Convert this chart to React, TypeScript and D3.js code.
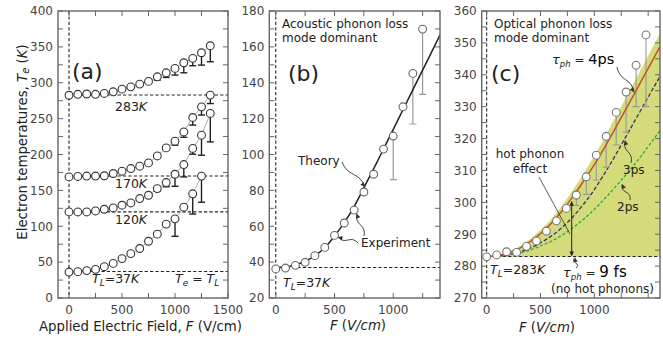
import React from 'react';
import * as d3 from 'd3';

const W = 663, H = 341;
const TOP = 11, BOTTOM = 298;
const FONT = 'DejaVu Sans, Verdana, sans-serif';

// ---------- Panel (a) ----------
const fieldA = [0, 83, 167, 250, 333, 417, 500, 583, 667, 750, 833, 917, 1000, 1083, 1167, 1250, 1333];
const te283 = [282.6, 283.9, 284.3, 283.9, 285.1, 287.4, 291.1, 294.3, 298.1, 301.9, 308.3, 313.9, 320, 327.9, 334, 341.8, 351.6];
const low283 = [null, null, null, null, null, null, null, null, null, null, 303.7, 307.4, 310.7, 313.9, 323.7, 324.6, 329.3];
const te170 = [168.8, 169.4, 170, 170, 170.4, 173.5, 176.7, 180.4, 183.7, 188.3, 198, 209.2, 218.6, 231.5, 251.6, 266.4, 282.8];
const low170 = [null, null, null, null, null, null, null, null, null, null, null, null, 213, 224, 241, 255, 271];
const te120 = [119.9, 119.9, 119.9, 121.3, 123.7, 125.5, 129.3, 132.5, 138.6, 143.2, 152.5, 160.9, 172.5, 186, 208.4, 227, 257.2];
const low120 = [null, null, null, null, null, null, null, null, null, null, 149, 155, 155.7, 168.7, 200.4, 199, 217.6];
const te37 = [36.2, 36.7, 38.2, 39.9, 43.6, 48.2, 54.9, 61.8, 69, 79.1, 89, 103, 110.3, 126.6, 145.2, 169.9];
const low37 = [null, null, null, null, null, null, null, null, null, null, null, null, 86, null, 117, 133.5];
const latticeA = [283, 170, 120, 37];

// ---------- Panel (b) ----------
const fieldTheory = [0, 83, 167, 250, 333, 417, 500, 583, 667, 750, 833, 917, 1000, 1100, 1200, 1300, 1400];
const teTheory = [37, 37.3, 38.5, 40.5, 43.5, 48, 54.5, 62, 71, 81.5, 92, 103, 114, 127.2, 140.5, 153.6, 166.8];

// ---------- Panel (c) ----------
const fieldC = [0, 93, 185, 278, 370, 463, 555, 648, 740, 833, 925, 1018, 1110, 1203, 1295, 1388, 1480];
const teC = [282.9, 283.5, 284.5, 284.3, 286.2, 287.9, 291, 294.2, 298.1, 302.3, 308, 314.8, 320.7, 328.2, 334.6, 343, 352.5];
const lowC = [null, null, null, null, null, null, null, null, null, 299, 302.5, 307, 311, 318, 322, 330, 330];
const fieldCurve = [0, 100, 200, 300, 400, 500, 600, 700, 800, 900, 1000, 1100, 1200, 1300, 1400, 1500, 1610];
const tau4ps = [283, 283.3, 284.1, 285.5, 287.6, 290.2, 293.4, 297.3, 301.8, 306.6, 311.8, 317.5, 323.5, 329.6, 335.8, 342, 348.8];
const tau3ps = [283, 283.15, 283.6, 284.4, 285.6, 287.3, 289.4, 292.1, 295.4, 299.4, 304, 309.3, 315, 321, 327, 333, 339.5];
const tau2ps = [283, 283.1, 283.4, 284.1, 285, 286.3, 287.8, 289.7, 292, 294.7, 297.8, 301.3, 305, 308.9, 313, 317.5, 322.5];
const fillTop = [283, 283.5, 284.5, 286.1, 288.4, 291.3, 294.8, 299, 303.8, 309, 314.6, 320.6, 326.9, 333.2, 339.6, 346, 353];

// ---------- scales ----------
const xA = d3.scaleLinear().domain([-104, 1500]).range([58, 228]);
const yA = d3.scaleLinear().domain([0, 400]).range([BOTTOM, TOP]);
const xB = d3.scaleLinear().domain([-55, 1398]).range([269.3, 440]);
const yB = d3.scaleLinear().domain([20, 180]).range([BOTTOM, TOP]);
const xC = d3.scaleLinear().domain([-46, 1610]).range([481.7, 660]);
const yC = d3.scaleLinear().domain([270, 360]).range([BOTTOM, TOP]);

type Sc = d3.ScaleLinear<number, number>;

function Frame({ x, y, xMajor, xMinor, yMajor, yMinor }: { x: Sc; y: Sc; xMajor: number[]; xMinor: number[]; yMajor: number[]; yMinor: number[] }) {
  const [x0, x1] = x.range();
  const [y0, y1] = y.range();
  const t = 5;
  const col = '#666';
  return (
    <g>
      {xMinor.map((v) => (
        <g key={'xm' + v}>
          <line x1={x(v)} x2={x(v)} y1={y0} y2={y0 - t} stroke={col} strokeWidth={1} />
          <line x1={x(v)} x2={x(v)} y1={y1} y2={y1 + t} stroke={col} strokeWidth={1} />
        </g>
      ))}
      {yMinor.map((v) => (
        <g key={'ym' + v}>
          <line x1={x0} x2={x0 + t} y1={y(v)} y2={y(v)} stroke={col} strokeWidth={1} />
          <line x1={x1} x2={x1 - t} y1={y(v)} y2={y(v)} stroke={col} strokeWidth={1} />
        </g>
      ))}
      <rect x={x0} y={y1} width={x1 - x0} height={y0 - y1} fill="none" stroke={col} strokeWidth={1.4} />
      {xMajor.map((v) => (
        <text key={'xl' + v} x={x(v)} y={314} textAnchor="middle" fontSize={12} fill="#444" fontFamily={FONT}>{v}</text>
      ))}
      {yMajor.map((v) => (
        <text key={'yl' + v} x={x0 - 5} y={y(v) + 4.3} textAnchor="end" fontSize={12} fill="#444" fontFamily={FONT}>{v}</text>
      ))}
    </g>
  );
}

function range(a: number, b: number, s: number) {
  return d3.range(a, b + s / 2, s);
}

function Circles({ xs, ys, x, y, stroke }: { xs: number[]; ys: number[]; x: Sc; y: Sc; stroke: string }) {
  return (
    <g>
      {ys.map((v, i) => (
        <circle key={i} cx={x(xs[i])} cy={y(v)} r={3.9} fill="white" stroke={stroke} strokeWidth={1.1} />
      ))}
    </g>
  );
}

function ErrBars({ xs, ys, lows, x, y, stroke, w }: { xs: number[]; ys: number[]; lows: (number | null)[]; x: Sc; y: Sc; stroke: string; w: number }) {
  return (
    <g>
      {lows.map((l, i) =>
        l == null ? null : (
          <g key={i}>
            <line x1={x(xs[i])} x2={x(xs[i])} y1={y(ys[i]) + 3.9} y2={y(l)} stroke={stroke} strokeWidth={w} />
            <line x1={x(xs[i]) - 3.5} x2={x(xs[i]) + 3.5} y1={y(l)} y2={y(l)} stroke={stroke} strokeWidth={w} />
          </g>
        )
      )}
    </g>
  );
}

function Squiggle({ x1, y1, x2, y2, color = '#333' }: { x1: number; y1: number; x2: number; y2: number; color?: string }) {
  const dx = x2 - x1, dy = y2 - y1;
  const len = Math.hypot(dx, dy);
  const nx = -dy / len, ny = dx / len;
  const a = 2.2;
  const p = (t: number, o: number) => [x1 + dx * t + nx * o, y1 + dy * t + ny * o];
  const c1 = p(0.25, a * 1.6), m = p(0.5, 0), c2 = p(0.75, -a * 1.6);
  const d = `M${x1},${y1} Q${c1[0]},${c1[1]} ${m[0]},${m[1]} Q${c2[0]},${c2[1]} ${x2},${y2}`;
  const ux = dx / len, uy = dy / len;
  const ah = 4.5, aw = 2.2;
  const bx = x2 - ux * ah, by = y2 - uy * ah;
  const head = `M${x2},${y2} L${bx + nx * aw},${by + ny * aw} L${bx - nx * aw},${by - ny * aw} Z`;
  return (
    <g>
      <path d={d} fill="none" stroke={color} strokeWidth={0.9} />
      <path d={head} fill={color} />
    </g>
  );
}

export default function App() {
  const lineA = (ys: number[]) =>
    d3.line<number>().x((_, i) => xA(fieldA[i])).y((v) => yA(v))(ys) as string;
  const theoryPath = d3
    .line<number>()
    .x((_, i) => xB(fieldTheory[i]))
    .y((v) => yB(v))
    .curve(d3.curveMonotoneX)(teTheory) as string;
  const curveC = (ys: number[]) =>
    d3.line<number>().x((_, i) => xC(fieldCurve[i])).y((v) => yC(v)).curve(d3.curveMonotoneX)(ys) as string;
  const areaC = d3
    .area<number>()
    .x((_, i) => xC(fieldCurve[i]))
    .y0(yC(283))
    .y1((v) => yC(v))
    .curve(d3.curveMonotoneX)(fillTop) as string;

  const dash = '3.2,2.2';
  const txt = { fontFamily: FONT, fill: '#222' } as const;

  return (
    <div style={{ position: 'absolute', left: 0, top: 0 }}>
      <svg width={W} height={H} viewBox={`0 0 ${W} ${H}`} style={{ display: 'block', background: 'white' }}>
        <defs>
          <clipPath id="clipA"><rect x={58} y={TOP} width={170} height={BOTTOM - TOP} /></clipPath>
          <clipPath id="clipB"><rect x={269.3} y={TOP} width={440 - 269.3} height={BOTTOM - TOP} /></clipPath>
          <clipPath id="clipC"><rect x={481.7} y={TOP} width={660 - 481.7} height={BOTTOM - TOP} /></clipPath>
        </defs>

        {/* ===== Panel (a) ===== */}
        <g clipPath="url(#clipA)">
          <line x1={xA(0)} x2={xA(0)} y1={TOP} y2={BOTTOM} stroke="#222" strokeDasharray={dash} strokeWidth={1.1} />
          {latticeA.map((v) => (
            <line key={v} x1={xA(0)} x2={228} y1={yA(v)} y2={yA(v)} stroke="#222" strokeDasharray={dash} strokeWidth={1.1} />
          ))}
          {[te283, te170, te120, te37].map((s, k) => (
            <path key={k} d={lineA(s)} fill="none" stroke="#999" strokeWidth={0.8} />
          ))}
          <ErrBars xs={fieldA} ys={te283} lows={low283} x={xA} y={yA} stroke="#222" w={1.4} />
          <ErrBars xs={fieldA} ys={te170} lows={low170} x={xA} y={yA} stroke="#222" w={1.4} />
          <ErrBars xs={fieldA} ys={te120} lows={low120} x={xA} y={yA} stroke="#222" w={1.4} />
          <ErrBars xs={fieldA} ys={te37} lows={low37} x={xA} y={yA} stroke="#222" w={1.4} />
          <Circles xs={fieldA} ys={te283} x={xA} y={yA} stroke="#333" />
          <Circles xs={fieldA} ys={te170} x={xA} y={yA} stroke="#333" />
          <Circles xs={fieldA} ys={te120} x={xA} y={yA} stroke="#333" />
          <Circles xs={fieldA} ys={te37} x={xA} y={yA} stroke="#333" />
        </g>
        <Frame x={xA} y={yA} xMajor={[0, 500, 1000, 1500]} xMinor={range(0, 1500, 250)} yMajor={range(0, 400, 50)} yMinor={range(0, 400, 25)} />
        <text x={72} y={79} fontSize={22} {...txt}>(a)</text>
        <text x={115} y={111} fontSize={12.5} {...txt}>283<tspan fontStyle="italic">K</tspan></text>
        <text x={115} y={188} fontSize={12.5} {...txt}>170<tspan fontStyle="italic">K</tspan></text>
        <text x={115} y={224} fontSize={12.5} {...txt}>120<tspan fontStyle="italic">K</tspan></text>
        <text x={92} y={283} fontSize={12.5} {...txt}>
          <tspan fontStyle="italic">T</tspan><tspan fontStyle="italic" fontSize={9} dy={3}>L</tspan><tspan dy={-3}>=37</tspan><tspan fontStyle="italic">K</tspan>
        </text>
        <text x={175} y={283} fontSize={12.5} {...txt}>
          <tspan fontStyle="italic">T</tspan><tspan fontStyle="italic" fontSize={9} dy={3}>e</tspan><tspan dy={-3}> = </tspan><tspan fontStyle="italic">T</tspan><tspan fontStyle="italic" fontSize={9} dy={3}>L</tspan>
        </text>
        <text x={39} y={331} fontSize={13.3} {...txt}>
          Applied Electric Field, <tspan fontStyle="italic">F</tspan> (V/cm)
        </text>
        <text transform="translate(27,142) rotate(-90)" textAnchor="middle" fontSize={13.3} {...txt}>
          Electron temperatures, <tspan fontStyle="italic">T</tspan><tspan fontStyle="italic" fontSize={10} dy={2}>e</tspan><tspan dy={-2}> (</tspan><tspan fontStyle="italic">K</tspan>)
        </text>

        {/* ===== Panel (b) ===== */}
        <g clipPath="url(#clipB)">
          <line x1={xB(0)} x2={xB(0)} y1={TOP} y2={BOTTOM} stroke="#222" strokeDasharray={dash} strokeWidth={1.1} />
          <line x1={xB(0)} x2={440} y1={yB(37)} y2={yB(37)} stroke="#222" strokeDasharray={dash} strokeWidth={1.1} />
          <ErrBars xs={fieldA} ys={te37} lows={low37} x={xB} y={yB} stroke="#999" w={1.2} />
          <path d={theoryPath} fill="none" stroke="#222" strokeWidth={1.5} />
          <Circles xs={fieldA} ys={te37} x={xB} y={yB} stroke="#666" />
        </g>
        <Frame x={xB} y={yB} xMajor={[0, 500, 1000]} xMinor={range(0, 1250, 250)} yMajor={range(20, 180, 20)} yMinor={range(20, 180, 10)} />
        <text x={282} y={28} fontSize={12} {...txt}>Acoustic phonon loss</text>
        <text x={282} y={42} fontSize={12} {...txt}>mode dominant</text>
        <text x={288} y={81} fontSize={22} {...txt}>(b)</text>
        <text x={298} y={165} fontSize={12} {...txt}>Theory</text>
        <Squiggle x1={342} y1={162} x2={xB(760)} y2={yB(82)} />
        <text x={361} y={247} fontSize={12} {...txt}>Experiment</text>
        <Squiggle x1={358} y1={243} x2={xB(530)} y2={yB(54)} />
        <Squiggle x1={364} y1={236} x2={xB(690)} y2={yB(67)} />
        <text x={283} y={287} fontSize={12.5} {...txt}>
          <tspan fontStyle="italic">T</tspan><tspan fontStyle="italic" fontSize={9} dy={3}>L</tspan><tspan dy={-3}>=37</tspan><tspan fontStyle="italic">K</tspan>
        </text>
        <text x={xB(700)} y={330} textAnchor="middle" fontSize={13.3} {...txt}>
          <tspan fontStyle="italic">F</tspan> (<tspan fontStyle="italic">V/cm</tspan>)
        </text>

        {/* ===== Panel (c) ===== */}
        <g clipPath="url(#clipC)">
          <path d={areaC} fill="#d4db7a" />
          <line x1={xC(0)} x2={xC(0)} y1={TOP} y2={BOTTOM} stroke="#222" strokeDasharray={dash} strokeWidth={1.1} />
          <line x1={xC(0)} x2={660} y1={yC(283)} y2={yC(283)} stroke="#222" strokeDasharray={dash} strokeWidth={1.1} />
          <path d={curveC(tau2ps)} fill="none" stroke="#2aa63a" strokeWidth={1.3} strokeDasharray="3,2" />
          <path d={curveC(tau3ps)} fill="none" stroke="#33336e" strokeWidth={1.3} strokeDasharray="4,2" />
          <ErrBars xs={fieldC} ys={teC} lows={lowC} x={xC} y={yC} stroke="#999" w={1.1} />
          <path d={curveC(tau4ps)} fill="none" stroke="#c8512a" strokeWidth={1.5} />
          <Circles xs={fieldC} ys={teC} x={xC} y={yC} stroke="#777" />
          <line x1={xC(790)} x2={xC(790)} y1={yC(283) - 4} y2={yC(300.5) + 4} stroke="#222" strokeWidth={1} />
          <path d={`M${xC(790)},${yC(283)} l-2.2,-5 l4.4,0 Z`} fill="#222" />
          <path d={`M${xC(790)},${yC(300.5)} l-2.2,5 l4.4,0 Z`} fill="#222" />
        </g>
        <Frame x={xC} y={yC} xMajor={[0, 500, 1000]} xMinor={range(0, 1500, 250)} yMajor={range(270, 360, 10)} yMinor={range(270, 360, 5)} />
        <text x={494} y={28} fontSize={12} {...txt}>Optical phonon loss</text>
        <text x={494} y={42} fontSize={12} {...txt}>mode dominant</text>
        <text x={491} y={81} fontSize={22} {...txt}>(c)</text>
        <text x={552} y={64} fontSize={12} {...txt}>
          <tspan fontStyle="italic" fontSize={13}>τ</tspan><tspan fontStyle="italic" fontSize={8.5} dy={3}>ph</tspan><tspan dy={-3}> = </tspan><tspan fontSize={14.5} fill="#000">4ps</tspan>
        </text>
        <Squiggle x1={617} y1={67} x2={xC(1370)} y2={yC(334.5)} />
        <text x={530} y={158} textAnchor="middle" fontSize={12} {...txt}>hot phonon</text>
        <text x={530} y={173} textAnchor="middle" fontSize={12} {...txt}>effect</text>
        <line x1={539} y1={177} x2={xC(775)} y2={yC(290)} stroke="#333" strokeWidth={0.8} />
        <text x={623} y={174} fontSize={12} {...txt}>3ps</text>
        <Squiggle x1={631} y1={163} x2={625} y2={yC(320) + 2} />
        <text x={617} y={211} fontSize={12} {...txt}>2ps</text>
        <Squiggle x1={630} y1={200} x2={622} y2={yC(306) + 1} />
        <text x={490} y={274} fontSize={12.5} {...txt}>
          <tspan fontStyle="italic">T</tspan><tspan fontStyle="italic" fontSize={9} dy={3}>L</tspan><tspan dy={-3}>=283</tspan><tspan fontStyle="italic">K</tspan>
        </text>
        <text x={563} y={277} fontSize={12} {...txt}>
          <tspan fontStyle="italic" fontSize={13}>τ</tspan><tspan fontStyle="italic" fontSize={8.5} dy={3}>ph</tspan><tspan dy={-3}> = </tspan><tspan fontSize={15} fill="#000">9 fs</tspan>
        </text>
        <Squiggle x1={576} y1={268} x2={575} y2={yC(283) + 1} />
        <text x={654} y={293} textAnchor="end" fontSize={12} {...txt}>(no hot phonons)</text>
        <text x={547} y={332} textAnchor="middle" fontSize={13.3} {...txt}>
          <tspan fontStyle="italic">F</tspan> (<tspan fontStyle="italic">V/cm</tspan>)
        </text>
      </svg>
    </div>
  );
}
